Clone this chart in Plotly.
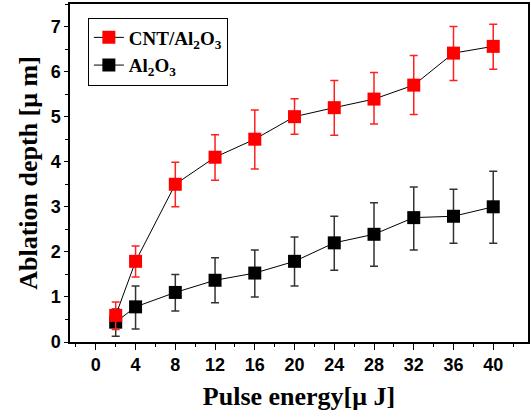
import plotly.graph_objects as go

energy = [2, 4, 8, 12, 16, 20, 24, 28, 32, 36, 40]

cnt_depth = [0.59, 1.79, 3.50, 4.10, 4.50, 5.00, 5.20, 5.39, 5.70, 6.41, 6.56]
cnt_err_up = [0.30, 0.34, 0.49, 0.50, 0.65, 0.40, 0.60, 0.59, 0.66, 0.59, 0.49]
cnt_err_dn = [0.31, 0.35, 0.50, 0.51, 0.66, 0.39, 0.61, 0.55, 0.65, 0.61, 0.51]

al_depth = [0.44, 0.78, 1.10, 1.37, 1.53, 1.79, 2.20, 2.39, 2.76, 2.79, 3.00]
al_err_up = [0.29, 0.46, 0.40, 0.50, 0.51, 0.54, 0.59, 0.70, 0.68, 0.60, 0.79]
al_err_dn = [0.31, 0.49, 0.41, 0.50, 0.53, 0.55, 0.61, 0.71, 0.72, 0.60, 0.81]

x_ticks = [0, 4, 8, 12, 16, 20, 24, 28, 32, 36, 40]
y_ticks = [0, 1, 2, 3, 4, 5, 6, 7]

XR = [-2.6, 43.5]
YR = [0, 7.5]

fig = go.Figure()

fig.add_trace(go.Scatter(
    x=energy, y=al_depth, mode="lines+markers",
    name="Al<sub>2</sub>O<sub>3</sub>",
    line=dict(color="black", width=1),
    marker=dict(symbol="square", size=13, color="black"),
    error_y=dict(type="data", array=al_err_up, arrayminus=al_err_dn,
                 color="#333333", thickness=1.5, width=4),
))
fig.add_trace(go.Scatter(
    x=energy, y=cnt_depth, mode="lines+markers",
    name="CNT/Al<sub>2</sub>O<sub>3</sub>",
    line=dict(color="black", width=1),
    marker=dict(symbol="square", size=13, color="#ff0000"),
    error_y=dict(type="data", array=cnt_err_up, arrayminus=cnt_err_dn,
                 color="#ff2020", thickness=1.5, width=4),
))

tickfont = dict(family="Liberation Sans, Arial", size=18, color="black", weight="bold")
titlefont = dict(family="Liberation Serif, Times New Roman", size=26, color="black", weight="bold")

fig.update_layout(
    width=531, height=417,
    margin=dict(l=70, r=3, t=4, b=75, autoexpand=False),
    paper_bgcolor="white", plot_bgcolor="white",
    showlegend=True,
    legend=dict(
        x=0.039, y=0.96, xanchor="left", yanchor="top",
        traceorder="reversed",
        bordercolor="black", borderwidth=1, bgcolor="white",
        font=dict(family="Liberation Serif, Times New Roman", size=19, color="black", weight="bold"),
        itemwidth=30, tracegroupgap=0,
    ),
    xaxis=dict(
        range=XR, tickmode="array", tickvals=x_ticks, ticktext=[str(v) for v in x_ticks],
        ticks="outside", ticklen=6, tickwidth=1.2, tickcolor="black",
        minor=dict(tickmode="linear", tick0=-2, dtick=4, ticks="outside", ticklen=3, tickwidth=1.2, tickcolor="black"),
        showline=True, linecolor="black", linewidth=1.5, mirror=True,
        showgrid=False, zeroline=False, tickfont=tickfont, automargin=False,
        title=dict(text="Pulse energy[μ J]", font=titlefont, standoff=12),
    ),
    yaxis=dict(
        range=YR, tickmode="array", tickvals=y_ticks, ticktext=[str(v) for v in y_ticks],
        ticks="outside", ticklen=4, tickwidth=1.2, tickcolor="black",
        minor=dict(tickmode="linear", tick0=0.5, dtick=1, ticks="outside", ticklen=3, tickwidth=1.2, tickcolor="black"),
        showline=True, linecolor="black", linewidth=1.5, mirror=True,
        showgrid=False, zeroline=False, tickfont=tickfont, automargin=False,
        title=dict(text="Ablation depth [μ m]", font=titlefont, standoff=6),
    ),
    xaxis2=dict(
        overlaying="x", side="top", anchor="y", range=XR, automargin=False,
        tickmode="linear", tick0=0, dtick=2, ticks="inside", ticklen=4, tickwidth=1.2, tickcolor="black",
        showticklabels=False, showgrid=False, zeroline=False, showline=False,
    ),
    yaxis2=dict(
        overlaying="y", side="right", anchor="x", range=YR, automargin=False,
        tickmode="linear", tick0=0, dtick=0.5, ticks="inside", ticklen=4, tickwidth=1.2, tickcolor="black",
        showticklabels=False, showgrid=False, zeroline=False, showline=False,
    ),
)

fig.write_html("out.html", config={"displayModeBar": False},
               post_script="document.body.style.margin='0';document.body.style.padding='0';")
